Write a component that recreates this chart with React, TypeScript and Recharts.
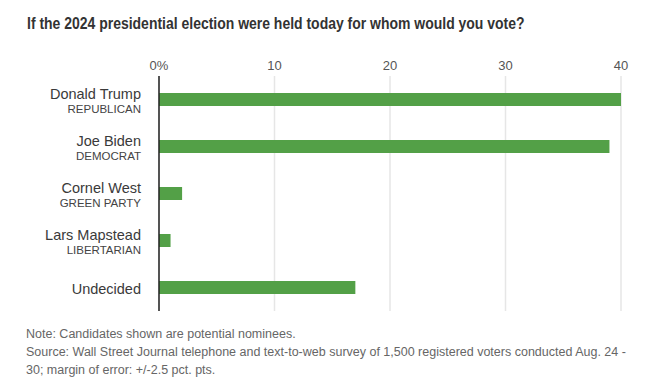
import { BarChart, Bar, XAxis, YAxis, CartesianGrid } from 'recharts';

const candidates = ['Donald Trump', 'Joe Biden', 'Cornel West', 'Lars Mapstead', 'Undecided'];
const parties = ['REPUBLICAN', 'DEMOCRAT', 'GREEN PARTY', 'LIBERTARIAN', ''];
const shares = [40, 39, 2, 1, 17];
const xTicks = [0, 10, 20, 30, 40];

const TITLE = 'If the 2024 presidential election were held today for whom would you vote?';
const NOTE = 'Note: Candidates shown are potential nominees.';
const SOURCE =
  'Source: Wall Street Journal telephone and text-to-web survey of 1,500 registered voters conducted Aug. 24 - 30; margin of error: +/-2.5 pct. pts.';

const FONT = '"Liberation Sans", Arial, sans-serif';

const data = candidates.map((name, i) => ({ name, party: parties[i], value: shares[i] }));

// two-line label: candidate name + party underneath
const CandidateTick = (props: any) => {
  const { x, y, payload, index } = props;
  const party = parties[index];
  if (!party) {
    return (
      <text x={x} y={y + 6} textAnchor="end" fontSize={14.5} fill="#3a3a3a" fontFamily={FONT}>
        {payload.value}
      </text>
    );
  }
  return (
    <g>
      <text x={x} y={y - 1} textAnchor="end" fontSize={14.5} fill="#3a3a3a" fontFamily={FONT}>
        {payload.value}
      </text>
      <text x={x} y={y + 13.5} textAnchor="end" fontSize={11.5} fill="#444" fontFamily={FONT}>
        {party}
      </text>
    </g>
  );
};

export default function App() {
  return (
    <div
      style={{
        position: 'fixed',
        left: 0,
        top: 0,
        width: 652,
        height: 385,
        background: '#fff',
        fontFamily: FONT,
      }}
    >
      <div
        style={{
          position: 'absolute',
          left: 27,
          top: 15,
          fontSize: 16,
          fontWeight: 'bold',
          color: '#333',
          whiteSpace: 'nowrap',
          transform: 'scaleX(0.873)',
          transformOrigin: 'left center',
        }}
      >
        {TITLE}
      </div>
      <div style={{ position: 'absolute', left: 0, top: 0 }}>
        <BarChart
          width={652}
          height={320}
          data={data}
          layout="vertical"
          margin={{ top: 56, right: 31, bottom: 9, left: 0 }}
          barCategoryGap={17}
        >
          <CartesianGrid horizontal={false} vertical stroke="#e6e6e6" strokeWidth={1.5} />
          <XAxis
            type="number"
            orientation="top"
            domain={[0, 40]}
            ticks={xTicks}
            tickFormatter={(v: number) => (v === 0 ? '0%' : String(v))}
            axisLine={false}
            tickLine={false}
            tickSize={0}
            tickMargin={6}
            height={20}
            tick={{ fontSize: 13, fill: '#555', fontFamily: FONT }}
          />
          <YAxis
            type="category"
            dataKey="name"
            width={159}
            axisLine={{ stroke: '#222', strokeWidth: 1.5 }}
            tickLine={false}
            tickSize={0}
            tickMargin={18}
            tick={<CandidateTick />}
            interval={0}
          />
          <Bar dataKey="value" fill="#53a047" isAnimationActive={false} />
        </BarChart>
      </div>
      <div
        style={{
          position: 'absolute',
          left: 26,
          top: 325,
          width: 612,
          fontSize: 12.5,
          lineHeight: '18px',
          color: '#666',
        }}
      >
        <div>{NOTE}</div>
        <div>{SOURCE}</div>
      </div>
    </div>
  );
}
